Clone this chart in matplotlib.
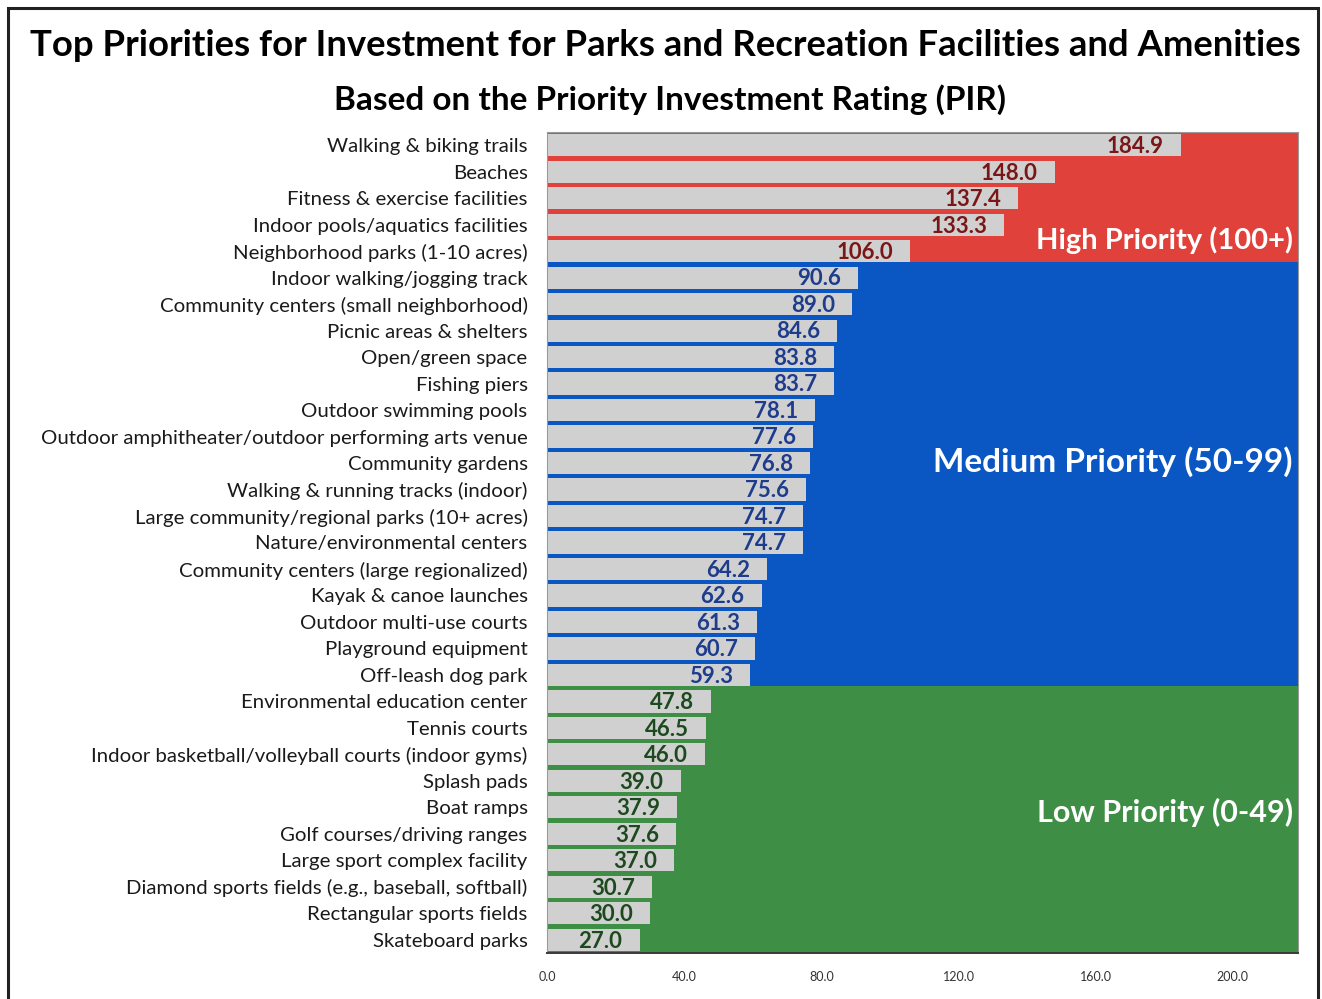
import matplotlib.pyplot as plt
from matplotlib.patches import Rectangle
import numpy as np

plt.rcParams['font.family'] = ['Lato', 'DejaVu Sans']

facilities = [
    "Walking & biking trails",
    "Beaches",
    "Fitness & exercise facilities",
    "Indoor pools/aquatics facilities",
    "Neighborhood parks (1-10 acres)",
    "Indoor walking/jogging track",
    "Community centers (small neighborhood)",
    "Picnic areas & shelters",
    "Open/green space",
    "Fishing piers",
    "Outdoor swimming pools",
    "Outdoor amphitheater/outdoor performing arts venue",
    "Community gardens",
    "Walking & running tracks (indoor)",
    "Large community/regional parks (10+ acres)",
    "Nature/environmental centers",
    "Community centers (large regionalized)",
    "Kayak & canoe launches",
    "Outdoor multi-use courts",
    "Playground equipment",
    "Off-leash dog park",
    "Environmental education center",
    "Tennis courts",
    "Indoor basketball/volleyball courts (indoor gyms)",
    "Splash pads",
    "Boat ramps",
    "Golf courses/driving ranges",
    "Large sport complex facility",
    "Diamond sports fields (e.g., baseball, softball)",
    "Rectangular sports fields",
    "Skateboard parks",
]
pir = [184.9, 148.0, 137.4, 133.3, 106.0, 90.6, 89.0, 84.6, 83.8, 83.7,
       78.1, 77.6, 76.8, 75.6, 74.7, 74.7, 64.2, 62.6, 61.3, 60.7,
       59.3, 47.8, 46.5, 46.0, 39.0, 37.9, 37.6, 37.0, 30.7, 30.0, 27.0]

# priority bands: (lower PIR bound, label, fill colour, value text colour)
bands = [
    (100, "High Priority (100+)", "#e0413b", "#7a1616"),
    (50, "Medium Priority (50-99)", "#0a56c2", "#1d3c8c"),
    (0, "Low Priority (0-49)", "#3f8e46", "#1c4a1e"),
]
xticks = [0, 40, 80, 120, 160, 200]

bar_h = 0.84
fig = plt.figure(figsize=(13.22, 9.99), dpi=100)
ax = fig.add_axes([547 / 1322, 1 - 953 / 999, 751 / 1322, 821 / 999])

y = np.arange(len(pir))
ax.set_ylim(len(pir) - 0.5, -0.5)
ax.set_xlim(0, 219)


def band_of(v):
    for b in bands:
        if v >= b[0]:
            return b
    return bands[-1]


# band label placement (row position, font size)
label_pos = {100: (3.6, 21), 50: (11.95, 24), 0: (25.2, 22)}

# coloured background behind each group of bars
top = -0.5
for lo, label, fill, txt in bands:
    rows = [i for i, v in enumerate(pir) if band_of(v)[0] == lo]
    bottom = rows[-1] + bar_h / 2 if lo > 0 else len(pir) - 0.5
    ax.add_patch(Rectangle((0, top), 219, bottom - top, facecolor=fill,
                           edgecolor='none', zorder=0))
    ypos, size = label_pos[lo]
    ax.text(217.5, ypos, label, ha='right', va='center', color='white',
            fontsize=size, fontweight='bold', zorder=3)
    top = bottom

ax.barh(y, pir, height=bar_h, color='#d0d0d0', zorder=2)

for i, v in enumerate(pir):
    ax.text(v - 5, i + 0.05, f"{v:.1f}", ha='right', va='center',
            color=band_of(v)[3], fontsize=16, fontweight='bold', zorder=3)

ax.set_yticks(y)
ax.set_yticklabels(facilities, fontsize=14.7, color='#1a1a1a')
ax.tick_params(axis='y', length=0, pad=14)
ax.set_xticks(xticks)
ax.set_xticklabels([f"{t:.1f}" for t in xticks], fontsize=9, color='#333333')
ax.tick_params(axis='x', length=0, pad=13)
for s in ax.spines.values():
    s.set_color('#9a9a9a')
    s.set_linewidth(0.8)
ax.spines['bottom'].set_color('#3a3a3a')
ax.spines['bottom'].set_linewidth(1.4)

fig.text(0.5 + 4 / 1322, 1 - 46 / 999, "Top Priorities for Investment for Parks and Recreation Facilities and Amenities",
         ha='center', va='center', fontsize=26.3, fontweight='bold')
fig.text(0.5 + 9 / 1322, 1 - 100 / 999, "Based on the Priority Investment Rating (PIR)",
         ha='center', va='center', fontsize=24, fontweight='bold')

# outer frame around the whole chart
fig.patches.append(Rectangle((8 / 1322, -0.01), 1310 / 1322, 1 - 8 / 999 + 0.01,
                             transform=fig.transFigure, fill=False,
                             edgecolor='#222222', linewidth=2.2))

fig.savefig("out.png", dpi=100)
